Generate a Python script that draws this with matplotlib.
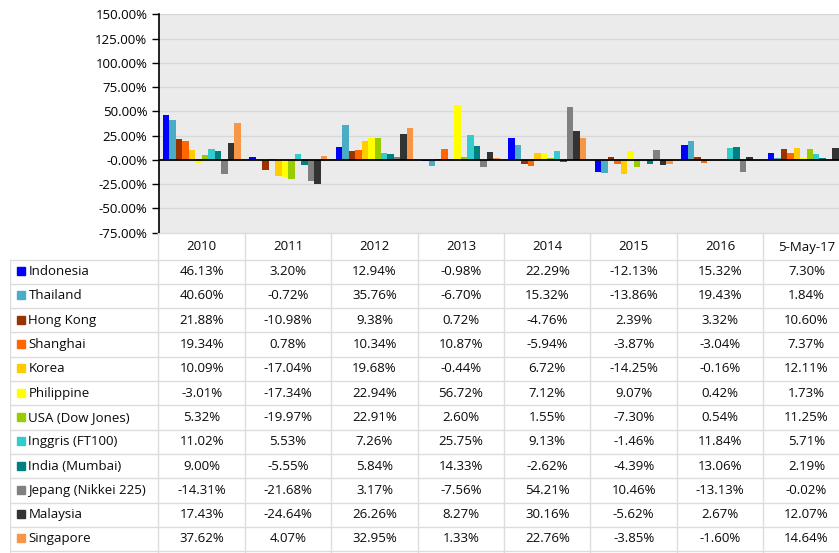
import matplotlib
matplotlib.use("Agg")
from matplotlib import pyplot as plt
from matplotlib.patches import Rectangle
import numpy as np

plt.rcParams['font.family'] = ['Open Sans', 'DejaVu Sans']

periods = ["2010", "2011", "2012", "2013", "2014", "2015", "2016", "5-May-17"]
markets = ["Indonesia", "Thailand", "Hong Kong", "Shanghai", "Korea", "Philippine",
           "USA (Dow Jones)", "Inggris (FT100)", "India (Mumbai)", "Jepang (Nikkei 225)",
           "Malaysia", "Singapore"]
indonesia = [46.13, 3.20, 12.94, -0.98, 22.29, -12.13, 15.32, 7.30]
thailand = [40.60, -0.72, 35.76, -6.70, 15.32, -13.86, 19.43, 1.84]
hongkong = [21.88, -10.98, 9.38, 0.72, -4.76, 2.39, 3.32, 10.60]
shanghai = [19.34, 0.78, 10.34, 10.87, -5.94, -3.87, -3.04, 7.37]
korea = [10.09, -17.04, 19.68, -0.44, 6.72, -14.25, -0.16, 12.11]
philippine = [-3.01, -17.34, 22.94, 56.72, 7.12, 9.07, 0.42, 1.73]
usa = [5.32, -19.97, 22.91, 2.60, 1.55, -7.30, 0.54, 11.25]
inggris = [11.02, 5.53, 7.26, 25.75, 9.13, -1.46, 11.84, 5.71]
india = [9.00, -5.55, 5.84, 14.33, -2.62, -4.39, 13.06, 2.19]
jepang = [-14.31, -21.68, 3.17, -7.56, 54.21, 10.46, -13.13, -0.02]
malaysia = [17.43, -24.64, 26.26, 8.27, 30.16, -5.62, 2.67, 12.07]
singapore = [37.62, 4.07, 32.95, 1.33, 22.76, -3.85, -1.60, 14.64]
series = [indonesia, thailand, hongkong, shanghai, korea, philippine,
          usa, inggris, india, jepang, malaysia, singapore]
colors = ["#0000FF", "#4BACC6", "#993300", "#FF6600", "#FFCC00", "#FFFF00",
          "#99CC00", "#33CCCC", "#008080", "#808080", "#333333", "#F79646"]

W, H = 839, 553
figure = plt.figure(figsize=(W / 100, H / 100), dpi=100)

# layout in pixels
left_px = 158.5
col_px = 86.4
top_px = 14.3
bot_px = 232.5
right_px = left_px + col_px * len(periods)

# chart
ax = figure.add_axes([left_px / W, 1 - bot_px / H, (right_px - left_px) / W, (bot_px - top_px) / H])
ax.set_facecolor("#EBEBEB")
x = np.arange(len(periods))
bw = 0.075
for j in range(len(series)):
    ax.bar(x + (j - 5.5) * bw, series[j], width=bw, color=colors[j], zorder=3)
ax.axhline(0, color="black", lw=1.3, zorder=4)
ax.set_xlim(-0.5, len(periods) - 0.5)
ax.set_ylim(-75, 150)
yt = np.arange(-75, 151, 25)
ax.set_yticks(yt)
ax.set_yticklabels(["-0.00%" if v == 0 else "%.2f%%" % v for v in yt], fontsize=9.5, color="black")
ax.yaxis.grid(True, color="#D8D8D8", lw=1, zorder=0)
ax.set_xticks([])
for s in ["top", "right", "bottom"]:
    ax.spines[s].set_visible(False)
ax.spines["left"].set_color("black")
ax.spines["left"].set_linewidth(1.2)
ax.tick_params(axis="y", length=5, width=1, color="black", pad=3)

# table
tab_left = 10
tax = figure.add_axes([tab_left / W, 0, (right_px - tab_left) / W, (H - bot_px) / H])
tax.set_xlim(tab_left, right_px)
tax.set_ylim(H, bot_px)
tax.axis("off")

head_bot = 259.5
row_h = 24.3
line_c = "#DCDCDC"
txt_c = "#0A0A0A"

# header
for k in range(len(periods)):
    cx = left_px + (k + 0.5) * col_px
    tax.text(cx, (bot_px + head_bot) / 2 + 1, periods[k], ha="center", va="center", fontsize=9.5, color=txt_c)
tax.plot([left_px, right_px], [bot_px, bot_px], color=line_c, lw=1)
for k in range(len(periods) + 1):
    tax.plot([left_px + k * col_px] * 2, [bot_px, H], color=line_c, lw=1)
tax.plot([tab_left + 0.5] * 2, [head_bot, H], color=line_c, lw=1)
for i in range(len(markets) + 1):
    y = head_bot + i * row_h
    tax.plot([tab_left, right_px], [y, y], color=line_c, lw=1)

# rows
for i in range(len(markets)):
    cy = head_bot + (i + 0.5) * row_h
    tax.add_patch(Rectangle((17, cy - 4.5), 8, 8, color=colors[i]))
    tax.text(28.5, cy, markets[i], ha="left", va="center", fontsize=9.5, color=txt_c)
    for k in range(len(periods)):
        cx = left_px + (k + 0.5) * col_px
        tax.text(cx, cy, "%.2f%%" % series[i][k], ha="center", va="center", fontsize=9.5, color=txt_c)

figure.savefig("out.png", dpi=100)
